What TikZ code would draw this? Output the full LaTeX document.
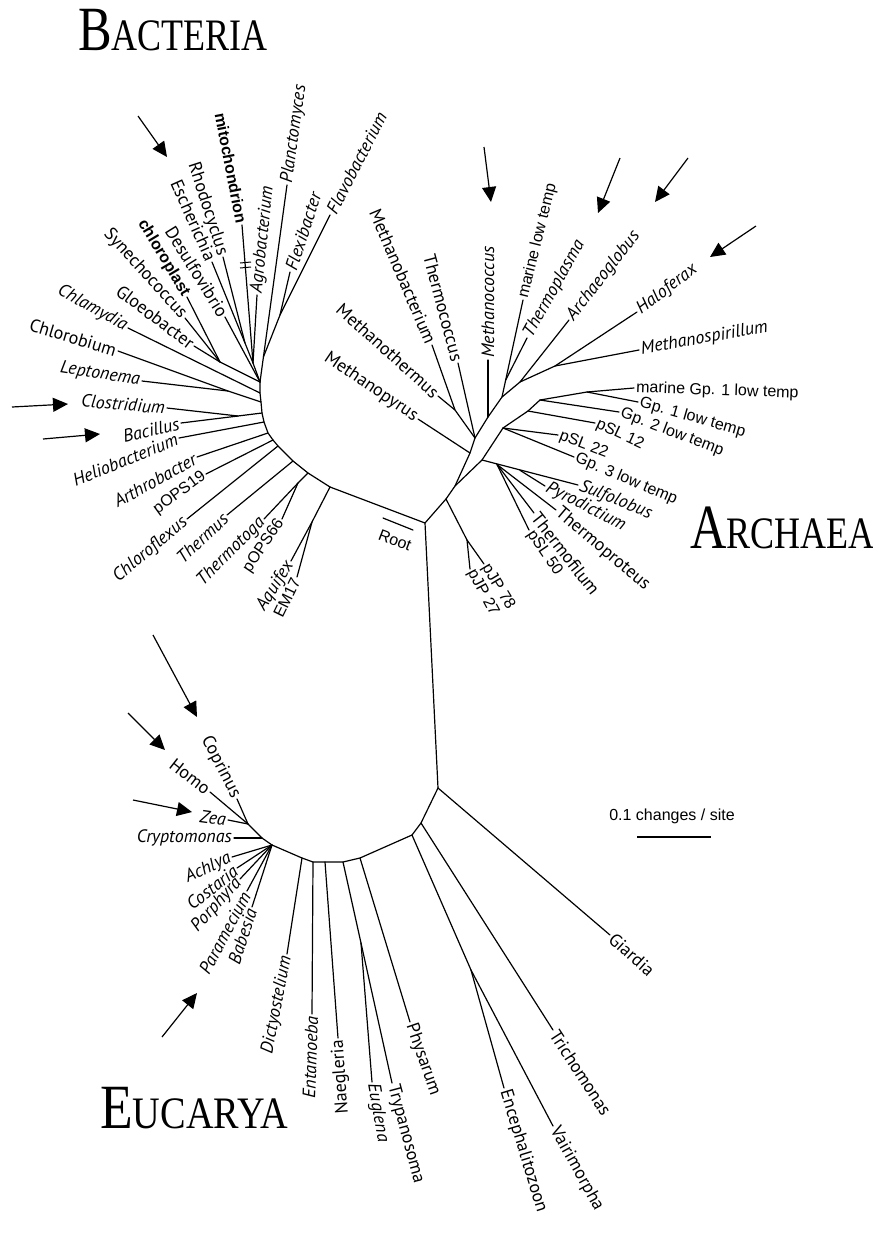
\documentclass[tikz,border=0pt]{standalone}
\usepackage{fontspec}
\usetikzlibrary{arrows.meta}
\newfontfamily\ptsansf{PT Sans}
\newfontfamily\arialf{Liberation Sans}
\newfontfamily\timesf{Liberation Serif}
\newcommand\itlab{\ptsansf\itshape\fontsize{18}{18}\selectfont}
\newcommand\rglab{\ptsansf\fontsize{18}{18}\selectfont}
\newcommand\uplab{\arialf\fontsize{16}{16}\selectfont}
\newcommand\bdlab{\arialf\bfseries\fontsize{16}{16}\selectfont}
\newcommand\Ttl[3]{\scalebox{#3}[1]{\timesf\fontsize{63}{63}\selectfont #1\fontsize{45}{45}\selectfont #2}}
\newcommand\Lab[6]{\node[#1, rotate=#2, anchor=#3] (#4) at (#5) {#6};}
\tikzset{
 br/.style={line width=1.2pt, line cap=round, line join=round},
 it/.style={font=\itlab, inner sep=2pt},
 rg/.style={font=\rglab, inner sep=2pt},
 up/.style={font=\uplab, inner sep=2pt},
 bd/.style={font=\bdlab, inner sep=2pt},
 ttl/.style={inner sep=0pt, anchor=base west},
 arr/.style={line width=1.2pt, -{Triangle[length=15pt,width=14pt]}},
}
\begin{document}
\begin{tikzpicture}[x=1pt,y=-1pt]
\fill[white] (0,0) rectangle (873,1240);
\useasboundingbox (0,0) rectangle (873,1240);
% ---------- titles
\node[ttl] (tB) at (78,50) {\Ttl{B}{ACTERIA}{0.8}};
\node[ttl] (tA) at (690,548) {\Ttl{A}{RCHAEA}{0.8}};
\node[ttl] (tE) at (100,1128) {\Ttl{E}{UCARYA}{0.85}};
% ---------- central
\coordinate (R) at (425,523);
\coordinate (B0) at (330,487);
\coordinate (A0) at (446,499);
\coordinate (E0) at (438,788);
\coordinate (rt1) at (383,518);
\coordinate (rt2) at (413,530);
\draw[br] (rt1) -- (rt2);
\node[up, rotate=-21] (lRoot) at (395,540) {Root};
\draw[br] (B0) -- (R) -- (A0);
\draw[br] (R) -- (E0);
% ---------- bacteria
\coordinate (b1) at (308,473);
\coordinate (b2) at (293,461);
\coordinate (b3) at (278,446);
\coordinate (b4) at (273,440);
\coordinate (b5) at (268,433);
\coordinate (b6) at (264,422);
\coordinate (b7) at (262,413);
\coordinate (b8) at (261,402);
\coordinate (b9) at (260,393);
\coordinate (H1) at (260,382);
\draw[br] (B0) -- (b1) -- (b2) -- (b3) -- (b4) -- (b5) -- (b6) -- (b7) -- (b8) -- (b9) -- (H1);
\coordinate (aq) at (312,522);
\coordinate (aqE) at (291,561);
\coordinate (emE) at (297,577);
\draw[br] (B0) -- (aq) -- (aqE);
\draw[br] (aq) -- (emE);
\coordinate (tt) at (298,483);
\coordinate (ttE) at (264,519);
\coordinate (p66E) at (282,519);
\draw[br] (b1) -- (tt) -- (ttE);
\draw[br] (tt) -- (p66E);
\coordinate (thE) at (227,515);
\coordinate (cfE) at (187,519);
\coordinate (p19E) at (206,474);
\coordinate (arE) at (197,457);
\coordinate (heE) at (179,438);
\draw[br] (b2) -- (thE);
\draw[br] (b3) -- (cfE);
\draw[br] (b4) -- (p19E);
\draw[br] (b5) -- (arE);
\draw[br] (b6) -- (heE);
\coordinate (cb) at (238,416);
\coordinate (clE) at (167,408);
\coordinate (baE) at (181,423);
\draw[br] (b7) -- (cb) -- (clE);
\draw[br] (cb) -- (baE);
\coordinate (lc) at (228,391);
\coordinate (leE) at (142,381);
\coordinate (chbE) at (118,351);
\draw[br] (b8) -- (lc) -- (leE);
\draw[br] (lc) -- (chbE);
\coordinate (chlE) at (128,328);
\draw[br] (b9) -- (chlE);
\coordinate (C) at (220,362);
\coordinate (cpE) at (187,297);
\coordinate (syE) at (185,318);
\coordinate (glE) at (194,346);
\draw[br] (H1) -- (C) -- (cpE);
\draw[br] (C) -- (syE);
\draw[br] (C) -- (glE);
\coordinate (P) at (253,363);
\coordinate (P1) at (245,343);
\coordinate (esE) at (212,262);
\coordinate (rhE) at (223,257);
\coordinate (deE) at (225,317);
\coordinate (miE) at (242,225);
\coordinate (agE) at (257,295);
\draw[br] (H1) -- (P) -- (P1) -- (esE);
\draw[br] (P1) -- (rhE);
\draw[br] (H1) -- (deE);
\draw[br] (P) -- (miE);
\draw[br] (P) -- (agE);
\coordinate (tk1a) at (240,263);
\coordinate (tk1b) at (251,262);
\coordinate (tk2a) at (240,268);
\coordinate (tk2b) at (251,267);
\draw[line width=1pt] (tk1a) -- (tk1b);
\draw[line width=1pt] (tk2a) -- (tk2b);
\coordinate (plE) at (287,185);
\coordinate (Fb) at (263.4,357);
\coordinate (F) at (280,315);
\coordinate (fxE) at (290,272);
\coordinate (flE) at (330,215);
\draw[br] (H1) -- (plE);
\draw[br] (Fb) -- (F) -- (flE);
\draw[br] (F) -- (fxE);
\Lab{it}{82}{west}{lPlan}{plE}{Planctomyces}
\Lab{it}{63}{west}{lFlav}{flE}{Flavobacterium}
\Lab{it}{72}{west}{lFlex}{fxE}{Flexibacter}
\Lab{it}{84}{west}{lAgro}{agE}{Agrobacterium}
\Lab{bd}{-79}{east}{lMito}{miE}{mitochondrion}
\Lab{rg}{-72}{east}{lRhod}{rhE}{Rhodocyclus}
\Lab{rg}{-66}{east}{lEsch}{esE}{Escherichia}
\Lab{rg}{-58}{east}{lDesu}{deE}{Desulfovibrio}
\Lab{bd}{-59}{east}{lChlp}{cpE}{chloroplast}
\Lab{rg}{-48}{east}{lSyne}{syE}{Synechococcus}
\Lab{rg}{-37}{east}{lGloe}{glE}{Gloeobacter}
\Lab{it}{-29}{east}{lChla}{chlE}{Chlamydia}
\Lab{rg}{-17}{east}{lChlb}{chbE}{Chlorobium}
\Lab{it}{-9}{east}{lLept}{leE}{Leptonema}
\Lab{it}{-5}{east}{lClos}{clE}{Clostridium}
\Lab{it}{13}{east}{lBaci}{baE}{Bacillus}
\Lab{it}{22}{east}{lHeli}{heE}{Heliobacterium}
\Lab{it}{29}{east}{lArth}{arE}{Arthrobacter}
\Lab{up}{36}{east}{lp19}{p19E}{pOPS19}
\Lab{it}{40}{east}{lChfl}{cfE}{Chloroflexus}
\Lab{it}{43}{east}{lTherm}{thE}{Thermus}
\Lab{it}{45}{east}{lTtog}{ttE}{Thermotoga}
\Lab{up}{56}{east}{lp66}{p66E}{pOPS66}
\Lab{it}{58}{east}{lAqui}{aqE}{Aquifex}
\Lab{up}{64}{east}{lEM}{emE}{EM17}
% ---------- archaea
\coordinate (Av) at (455,486);
\coordinate (pj) at (467,540);
\coordinate (pj78E) at (484,564);
\coordinate (pj27E) at (470,569);
\draw[br] (A0) -- (pj) -- (pj78E);
\draw[br] (pj) -- (pj27E);
\coordinate (a1) at (470,453);
\coordinate (a2) at (475,438);
\coordinate (a3) at (488,417);
\coordinate (a4) at (502,397);
\coordinate (a5) at (520,382);
\coordinate (a6) at (555,366);
\coordinate (hfE) at (637,312);
\draw[br] (A0) -- (Av) -- (a1) -- (a2) -- (a3) -- (a4) -- (a5) -- (a6) -- (hfE);
\coordinate (mpyE) at (418,419);
\coordinate (mb) at (455,410);
\coordinate (mbE) at (432,345);
\coordinate (mtE) at (438,396);
\coordinate (tcE) at (458,363);
\coordinate (mcE) at (488,360);
\coordinate (mltE) at (523,300);
\coordinate (tpb) at (505.7,380);
\coordinate (tpE) at (527,338);
\coordinate (agbE) at (569,320);
\coordinate (msE) at (639,350);
\draw[br] (a1) -- (mpyE);
\draw[br] (a2) -- (mb) -- (mbE);
\draw[br] (mb) -- (mtE);
\draw[br] (a2) -- (tcE);
\draw[br] (a3) -- (mcE);
\draw[br] (a4) -- (mltE);
\draw[br] (tpb) -- (tpE);
\draw[br] (a5) -- (agbE);
\draw[br] (a6) -- (msE);
\coordinate (k) at (482,460);
\coordinate (m1) at (503,428);
\coordinate (m2) at (528,411);
\coordinate (m3) at (540,400);
\coordinate (m4) at (587,392);
\coordinate (mg1E) at (634,388);
\coordinate (g1E) at (638,402);
\coordinate (g2E) at (619,412);
\coordinate (s12E) at (595,423);
\coordinate (s22E) at (558,435);
\coordinate (g3E) at (574,457);
\draw[br] (Av) -- (k) -- (m1) -- (m2) -- (m3) -- (m4) -- (mg1E);
\draw[br] (m4) -- (g1E);
\draw[br] (m3) -- (g2E);
\draw[br] (m2) -- (s12E);
\draw[br] (m1) -- (s22E);
\draw[br] (m1) -- (g3E);
\coordinate (kh) at (497,464.5);
\coordinate (sulE) at (578,485);
\coordinate (pyb) at (520,470.3);
\coordinate (pyE) at (545,486);
\coordinate (tprE) at (556,510);
\coordinate (tfE) at (534,513);
\coordinate (p50E) at (529,530);
\draw[br] (k) -- (sulE);
\draw[br] (pyb) -- (pyE);
\draw[br] (kh) -- (tprE);
\draw[br] (kh) -- (tfE);
\draw[br] (kh) -- (p50E);
\Lab{rg}{-67}{east}{lMbac}{mbE}{Methanobacterium}
\Lab{rg}{-75}{east}{lTcoc}{tcE}{Thermococcus}
\Lab{it}{90}{west}{lMcoc}{mcE}{Methanococcus}
\Lab{up}{76}{west}{lMlt}{mltE}{marine low temp}
\Lab{it}{61}{west}{lTpla}{tpE}{Thermoplasma}
\Lab{it}{52}{west}{lArgl}{agbE}{Archaeoglobus}
\Lab{it}{37}{west}{lHalo}{hfE}{Haloferax}
\Lab{it}{10}{west}{lMspi}{msE}{Methanospirillum}
\Lab{rg}{-42}{east}{lMthe}{mtE}{Methanothermus}
\Lab{rg}{-34}{east}{lMpyr}{mpyE}{Methanopyrus}
\Lab{up}{-2}{west}{lmg1}{mg1E}{marine Gp. 1 low temp}
\Lab{up}{-16}{west}{lg1}{g1E}{Gp. 1 low temp}
\Lab{up}{-21}{west}{lg2}{g2E}{Gp. 2 low temp}
\Lab{up}{-25}{west}{ls12}{s12E}{pSL 12}
\Lab{up}{-21}{west}{ls22}{s22E}{pSL 22}
\Lab{up}{-23}{west}{lg3}{g3E}{Gp. 3 low temp}
\Lab{it}{-22}{west}{lSulf}{sulE}{Sulfolobus}
\Lab{it}{-27}{west}{lPyro}{pyE}{Pyrodictium}
\Lab{rg}{-40}{west}{lTpro}{tprE}{Thermoproteus}
\Lab{rg}{-52}{west}{lTfil}{tfE}{Thermofilum}
\Lab{up}{-56}{west}{lp50}{p50E}{pSL 50}
\Lab{up}{-59}{west}{lpj78}{pj78E}{pJP 78}
\Lab{up}{-62}{west}{lpj27}{pj27E}{pJP 27}
% ---------- eucarya
\coordinate (e1) at (421,823);
\coordinate (e2) at (412,835);
\coordinate (e3) at (360,858);
\coordinate (e4) at (343,862);
\coordinate (e5) at (325,862);
\coordinate (e6) at (313,862);
\coordinate (e7) at (302,858);
\coordinate (e8) at (272,845);
\coordinate (e9) at (262,838);
\coordinate (e10) at (248,824);
\draw[br] (E0) -- (e1) -- (e2) -- (e3) -- (e4) -- (e5) -- (e6) -- (e7) -- (e8) -- (e9) -- (e10);
\coordinate (giE) at (610,935);
\coordinate (trE) at (553,1030);
\coordinate (ev) at (471,970);
\coordinate (enE) at (504,1088);
\coordinate (vaE) at (553,1126);
\coordinate (phE) at (410,1022);
\coordinate (te) at (361,943);
\coordinate (eugE) at (372,1082);
\coordinate (tyE) at (392,1083);
\coordinate (naE) at (338,1038);
\coordinate (entE) at (312,1014);
\coordinate (diE) at (287,954);
\draw[br] (E0) -- (giE);
\draw[br] (e1) -- (trE);
\draw[br] (e2) -- (ev) -- (enE);
\draw[br] (ev) -- (vaE);
\draw[br] (e3) -- (phE);
\draw[br] (e4) -- (te) -- (tyE);
\draw[br] (te) -- (eugE);
\draw[br] (e5) -- (naE);
\draw[br] (e6) -- (entE);
\draw[br] (e7) -- (diE);
\coordinate (acE) at (232,857);
\coordinate (coE) at (237,868);
\coordinate (poE) at (240,879);
\coordinate (paE) at (247,891);
\coordinate (babE) at (252,907);
\coordinate (crE) at (234,838);
\coordinate (cpE2) at (237,799);
\coordinate (hoE) at (210,792);
\coordinate (zeE) at (228,820);
\draw[br] (e8) -- (acE);
\draw[br] (e8) -- (coE);
\draw[br] (e8) -- (poE);
\draw[br] (e8) -- (paE);
\draw[br] (e8) -- (babE);
\draw[br] (e9) -- (crE);
\draw[br] (e10) -- (cpE2);
\draw[br] (e10) -- (hoE);
\draw[br] (e10) -- (zeE);
\Lab{rg}{-63}{east}{lCopr}{cpE2}{Coprinus}
\Lab{rg}{-38}{east}{lHomo}{hoE}{Homo}
\Lab{it}{-8}{east}{lZea}{zeE}{Zea}
\Lab{it}{0}{east}{lCryp}{crE}{Cryptomonas}
\Lab{it}{25}{east}{lAchl}{acE}{Achlya}
\Lab{it}{38}{east}{lCost}{coE}{Costaria}
\Lab{it}{48}{east}{lPorp}{poE}{Porphyra}
\Lab{it}{62}{east}{lPara}{paE}{Paramecium}
\Lab{it}{72}{east}{lBabe}{babE}{Babesia}
\Lab{it}{79}{east}{lDict}{diE}{Dictyostelium}
\Lab{it}{88}{east}{lEnta}{entE}{Entamoeba}
\Lab{rg}{94}{east}{lNaeg}{naE}{Naegleria}
\Lab{it}{-80}{west}{lEugl}{eugE}{Euglena}
\Lab{rg}{-75}{west}{lTryp}{tyE}{Trypanosoma}
\Lab{rg}{-71}{west}{lPhys}{phE}{Physarum}
\Lab{rg}{-73}{west}{lEnce}{enE}{Encephalitozoon}
\Lab{rg}{-61}{west}{lVair}{vaE}{Vairimorpha}
\Lab{rg}{-57}{west}{lTric}{trE}{Trichomonas}
\Lab{rg}{-42}{west}{lGiar}{giE}{Giardia}
% ---------- scale
\node[up] (scl) at (672,816) {0.1 changes / site};
\coordinate (sb1) at (637,837);
\coordinate (sb2) at (711,837);
\draw[line width=1.8pt] (sb1) -- (sb2);
% ---------- arrows
\coordinate (ar1s) at (138,116);  \coordinate (ar1t) at (167,157);
\coordinate (ar2s) at (12,407);   \coordinate (ar2t) at (68,404);
\coordinate (ar3s) at (43,439);   \coordinate (ar3t) at (100,434);
\coordinate (ar4s) at (484,147);  \coordinate (ar4t) at (491,202);
\coordinate (ar5s) at (620,158);  \coordinate (ar5t) at (598,213);
\coordinate (ar6s) at (688,158);  \coordinate (ar6t) at (655,202);
\coordinate (ar7s) at (756,226);  \coordinate (ar7t) at (710,257);
\coordinate (ar8s) at (153,635);  \coordinate (ar8t) at (197,717);
\coordinate (ar9s) at (128,713);  \coordinate (ar9t) at (165,750);
\coordinate (ar10s) at (133,800); \coordinate (ar10t) at (192,812);
\coordinate (ar11s) at (162,1037);\coordinate (ar11t) at (197,993);
\foreach \i in {1,...,11} {\draw[arr] (ar\i s) -- (ar\i t);}
\end{tikzpicture}
\end{document}
